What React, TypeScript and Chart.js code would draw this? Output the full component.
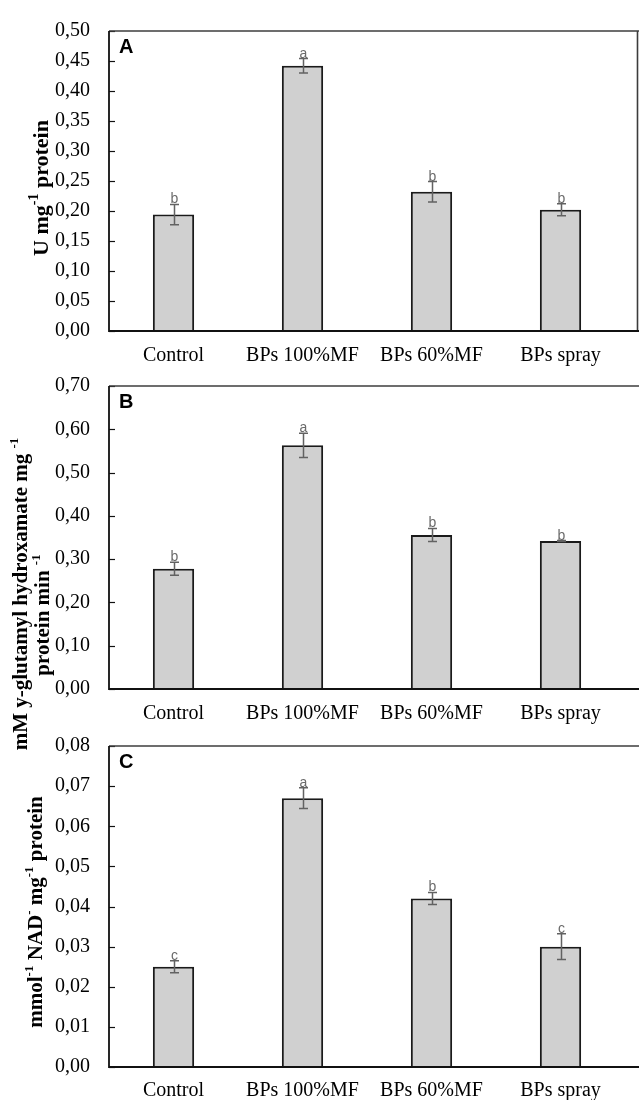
import React, { useEffect, useRef } from "react";
import { Chart, registerables } from "chart.js";

Chart.register(...registerables);

// ---------- data ----------
const categories = ["Control", "BPs 100%MF", "BPs 60%MF", "BPs spray"];

const valuesA = [0.194, 0.442, 0.232, 0.202];
const errorsA = [0.017, 0.012, 0.017, 0.01];
const lettersA = ["b", "a", "b", "b"];

const valuesB = [0.278, 0.563, 0.356, 0.342];
const errorsB = [0.015, 0.028, 0.015, 0.001];
const lettersB = ["b", "a", "b", "b"];

const valuesC = [0.025, 0.067, 0.042, 0.03];
const errorsC = [0.0015, 0.0026, 0.0015, 0.0032];
const lettersC = ["c", "a", "b", "c"];

const yMaxA = 0.5;
const yStepA = 0.05;
const yMaxB = 0.7;
const yStepB = 0.1;
const yMaxC = 0.08;
const yStepC = 0.01;

type Seg = { t: string; sup?: boolean };

const titleA: Seg[][] = [[{ t: "U mg" }, { t: "-1", sup: true }, { t: " protein" }]];
const titleB: Seg[][] = [
  [{ t: "mM y-glutamyl hydroxamate mg " }, { t: "-1", sup: true }],
  [{ t: "protein min " }, { t: "-1", sup: true }],
];
const titleC: Seg[][] = [
  [
    { t: "mmol" },
    { t: "-1", sup: true },
    { t: " NAD" },
    { t: "-", sup: true },
    { t: " mg" },
    { t: "-1", sup: true },
    { t: " protein" },
  ],
];

// ---------- layout ----------
const W = 639;
const PLOT_LEFT = 109;
const PLOT_RIGHT = 625;
const SERIF = "'Liberation Serif', 'Times New Roman', serif";
const SANS = "'Liberation Sans', Arial, sans-serif";

type TitleLine = { segs: Seg[]; cx: number; cy: number };

type PanelProps = {
  values: number[];
  errors: number[];
  letters: string[];
  yMax: number;
  yStep: number;
  panelLabel: string;
  titles: TitleLine[];
  titleSize: number;
  top: number;
  height: number;
  chartTop: number;
  chartBottom: number;
  labelPad: number;
  boxed: boolean;
};

function drawRich(ctx: CanvasRenderingContext2D, segs: Seg[], cx: number, cy: number, size: number) {
  const base = `bold ${size}px ${SERIF}`;
  const sup = `bold ${Math.round(size * 0.62)}px ${SERIF}`;
  let total = 0;
  const widths = segs.map((s) => {
    ctx.font = s.sup ? sup : base;
    const w = ctx.measureText(s.t).width;
    total += w;
    return w;
  });
  ctx.save();
  ctx.translate(cx, cy);
  ctx.rotate(-Math.PI / 2);
  ctx.fillStyle = "#000";
  ctx.textBaseline = "middle";
  ctx.textAlign = "left";
  let x = -total / 2;
  segs.forEach((s, i) => {
    ctx.font = s.sup ? sup : base;
    ctx.fillText(s.t, x, s.sup ? -size * 0.33 : 0);
    x += widths[i];
  });
  ctx.restore();
}

function Panel(p: PanelProps) {
  const ref = useRef<HTMLCanvasElement>(null);
  useEffect(() => {
    const canvas = ref.current;
    if (!canvas) return;
    const decor = {
      id: "decor",
      afterDatasetsDraw(chart: any) {
        const { ctx, scales } = chart;
        const y = scales.y;
        const meta = chart.getDatasetMeta(0);
        ctx.save();
        // error bars
        ctx.strokeStyle = "#626262";
        ctx.lineWidth = 1.5;
        meta.data.forEach((bar: any, i: number) => {
          const v = p.values[i];
          const e = p.errors[i];
          const yt = y.getPixelForValue(v + e);
          const yb = y.getPixelForValue(v - e);
          const cx = Math.round(bar.x) + 0.5;
          ctx.beginPath();
          ctx.moveTo(cx, yt);
          ctx.lineTo(cx, yb);
          ctx.moveTo(cx - 4.5, yt);
          ctx.lineTo(cx + 4.5, yt);
          ctx.moveTo(cx - 4.5, yb);
          ctx.lineTo(cx + 4.5, yb);
          ctx.stroke();
          // letters
          ctx.fillStyle = "#6a6a6a";
          ctx.font = `14px ${SANS}`;
          ctx.textAlign = "center";
          ctx.textBaseline = "alphabetic";
          ctx.fillText(p.letters[i], cx, yt - 1);
        });
        ctx.restore();
      },
      afterDraw(chart: any) {
        const { ctx, chartArea, scales } = chart;
        const y = scales.y;
        ctx.save();
        // inner tick marks
        ctx.strokeStyle = "#111";
        ctx.lineWidth = 1.2;
        y.ticks.forEach((t: any) => {
          const py = Math.round(y.getPixelForValue(t.value)) + 0.5;
          ctx.beginPath();
          ctx.moveTo(chartArea.left, py);
          ctx.lineTo(chartArea.left + 6, py);
          ctx.stroke();
        });
        // top frame
        ctx.strokeStyle = "#3c3c3c";
        ctx.lineWidth = 1.6;
        ctx.beginPath();
        ctx.moveTo(chartArea.left, chartArea.top);
        ctx.lineTo(W, chartArea.top);
        ctx.stroke();
        if (p.boxed) {
          ctx.beginPath();
          ctx.moveTo(W - 1.5, chartArea.top);
          ctx.lineTo(W - 1.5, chartArea.bottom);
          ctx.stroke();
        }
        // axes
        ctx.strokeStyle = "#111";
        ctx.lineWidth = 1.8;
        ctx.beginPath();
        ctx.moveTo(chartArea.left, chartArea.top);
        ctx.lineTo(chartArea.left, chartArea.bottom);
        ctx.lineTo(W, chartArea.bottom);
        ctx.stroke();
        // panel letter
        ctx.fillStyle = "#000";
        ctx.font = `bold 20px ${SANS}`;
        ctx.textAlign = "left";
        ctx.textBaseline = "middle";
        ctx.fillText(p.panelLabel, chartArea.left + 10, chartArea.top + 16);
        // axis titles (with superscripts)
        p.titles.forEach((tl) => drawRich(ctx, tl.segs, tl.cx, tl.cy - p.top, p.titleSize));
        ctx.restore();
      },
    };
    const chart = new Chart(canvas, {
      type: "bar",
      data: {
        labels: categories,
        datasets: [
          {
            data: p.values,
            backgroundColor: "#d0d0d0",
            borderColor: "#1a1a1a",
            borderWidth: 2,
            barPercentage: 0.32,
            categoryPercentage: 1,
          },
        ],
      },
      options: {
        animation: false,
        responsive: false,
        maintainAspectRatio: false,
        devicePixelRatio: 1,
        layout: {
          padding: { top: p.chartTop - p.top, right: W - PLOT_RIGHT, left: 0, bottom: 0 },
        },
        plugins: { legend: { display: false }, tooltip: { enabled: false } },
        scales: {
          x: {
            grid: { display: false, drawTicks: false },
            border: { display: false },
            ticks: {
              color: "#000",
              font: { size: 20, family: SERIF },
              padding: p.labelPad,
              maxRotation: 0,
              autoSkip: false,
            },
            afterFit: (s: any) => {
              s.height = p.top + p.height - p.chartBottom;
            },
          },
          y: {
            min: 0,
            max: p.yMax,
            grid: { display: false, drawTicks: false },
            border: { display: false },
            ticks: {
              stepSize: p.yStep,
              padding: 19,
              color: "#000",
              font: { size: 20, family: SERIF },
              callback: (v: any) => Number(v).toFixed(2).replace(".", ","),
            },
            afterFit: (s: any) => {
              s.width = PLOT_LEFT;
            },
          },
        },
      },
      plugins: [decor],
    } as any);
    return () => chart.destroy();
  }, []);
  return (
    <canvas
      ref={ref}
      width={W}
      height={p.height}
      style={{ position: "absolute", left: 0, top: p.top, width: W, height: p.height }}
    />
  );
}

export default function App() {
  return (
    <div
      style={{
        position: "absolute",
        left: 0,
        top: 0,
        width: W,
        height: 1100,
        overflow: "hidden",
        background: "#fff",
      }}
    >
      <Panel
        values={valuesA}
        errors={errorsA}
        letters={lettersA}
        yMax={yMaxA}
        yStep={yStepA}
        panelLabel="A"
        titles={[{ segs: titleA[0], cx: 42, cy: 188 }]}
        titleSize={22}
        top={0}
        height={385}
        chartTop={19}
        chartBottom={331}
        labelPad={13}
        boxed={true}
      />
      <Panel
        values={valuesB}
        errors={errorsB}
        letters={lettersB}
        yMax={yMaxB}
        yStep={yStepB}
        panelLabel="B"
        titles={[
          { segs: titleB[0], cx: 22, cy: 594 },
          { segs: titleB[1], cx: 44, cy: 615 },
        ]}
        titleSize={21}
        top={355}
        height={400}
        chartTop={373}
        chartBottom={689}
        labelPad={13}
        boxed={false}
      />
      <Panel
        values={valuesC}
        errors={errorsC}
        letters={lettersC}
        yMax={yMaxC}
        yStep={yStepC}
        panelLabel="C"
        titles={[{ segs: titleC[0], cx: 37, cy: 912 }]}
        titleSize={21}
        top={715}
        height={385}
        chartTop={733}
        chartBottom={1067}
        labelPad={12}
        boxed={false}
      />
    </div>
  );
}
